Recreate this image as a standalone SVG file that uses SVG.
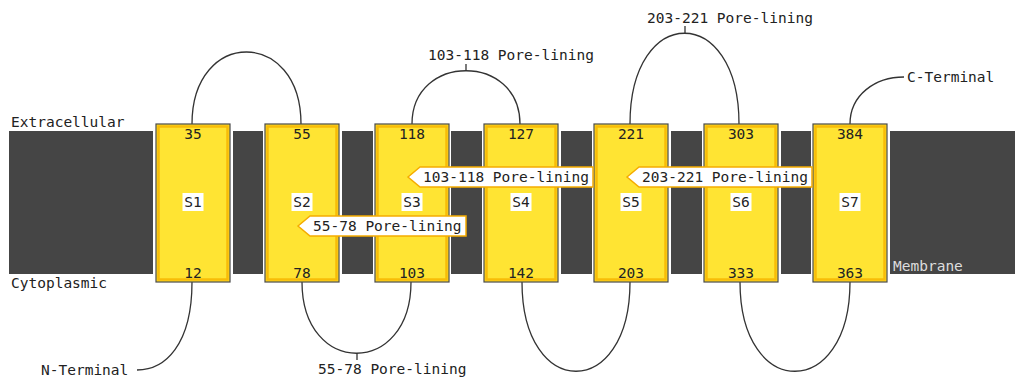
<svg xmlns="http://www.w3.org/2000/svg" width="1022" height="381" viewBox="0 0 1022 381">
<style>
text{font-family:"DejaVu Sans Mono","Liberation Mono",monospace;font-size:14.5px;fill:#222}
.mem{fill:#454545}
.hx{fill:#ffe433;stroke:#4a4a4a;stroke-width:1.2}
.hxi{fill:none;stroke:#f7b500;stroke-width:2.5;stroke-opacity:0.85}
.num{text-anchor:middle}
.lab{fill:#fff}
.call{fill:#fff;stroke:#f5ac00;stroke-width:1.5}
.loop{fill:none;stroke:#333;stroke-width:1.3}
</style>
<g id="membrane">
<rect class="mem" x="9" y="131" width="144" height="143"/>
<rect class="mem" x="233" y="131" width="30" height="143"/>
<rect class="mem" x="342" y="131" width="31" height="143"/>
<rect class="mem" x="451" y="131" width="31" height="143"/>
<rect class="mem" x="561" y="131" width="31" height="143"/>
<rect class="mem" x="671" y="131" width="31" height="143"/>
<rect class="mem" x="781" y="131" width="30" height="143"/>
<rect class="mem" x="890" y="131" width="125" height="143"/>
<text x="11" y="127">Extracellular</text>
<text x="11" y="288">Cytoplasmic</text>
<text x="893" y="271" style="fill:#ddd">Membrane</text>
</g>
<g id="connectors">
<path class="loop" d="M192 124 C192 28 301 28 301 124"/>
<path class="loop" d="M412 124 C412 53 520 53 520 124"/>
<line class="loop" x1="466" y1="71" x2="466" y2="64"/>
<path class="loop" d="M630 124 C630 3 739 3 739 124"/>
<line class="loop" x1="685" y1="33" x2="685" y2="26"/>
<path class="loop" d="M302 282 C302 377 411 377 411 282"/>
<line class="loop" x1="357" y1="353" x2="357" y2="360"/>
<path class="loop" d="M522 282 C522 401 630 401 630 282"/>
<path class="loop" d="M740 282 C740 401 850 401 850 282"/>
<path class="loop" d="M192 282 C192 345 165 370 137 370"/>
<path class="loop" d="M850 124 C850 95 875 77 904 77"/>
</g>
<g id="S1"><rect class="hx" x="156" y="124" width="74" height="158"/><rect class="hxi" x="158.5" y="126.5" width="69" height="153"/><text class="num" x="193" y="139">35</text><text class="num" x="193" y="278">12</text><rect class="lab" x="182.5" y="193" width="21" height="18"/><text class="num" x="193" y="207">S1</text></g>
<g id="S2"><rect class="hx" x="265" y="124" width="74" height="158"/><rect class="hxi" x="267.5" y="126.5" width="69" height="153"/><text class="num" x="302" y="139">55</text><text class="num" x="302" y="278">78</text><rect class="lab" x="291.5" y="193" width="21" height="18"/><text class="num" x="302" y="207">S2</text></g>
<g id="S3"><rect class="hx" x="375" y="124" width="74" height="158"/><rect class="hxi" x="377.5" y="126.5" width="69" height="153"/><text class="num" x="412" y="139">118</text><text class="num" x="412" y="278">103</text><rect class="lab" x="401.5" y="193" width="21" height="18"/><text class="num" x="412" y="207">S3</text></g>
<g id="S4"><rect class="hx" x="484" y="124" width="74" height="158"/><rect class="hxi" x="486.5" y="126.5" width="69" height="153"/><text class="num" x="521" y="139">127</text><text class="num" x="521" y="278">142</text><rect class="lab" x="510.5" y="193" width="21" height="18"/><text class="num" x="521" y="207">S4</text></g>
<g id="S5"><rect class="hx" x="594" y="124" width="74" height="158"/><rect class="hxi" x="596.5" y="126.5" width="69" height="153"/><text class="num" x="631" y="139">221</text><text class="num" x="631" y="278">203</text><rect class="lab" x="620.5" y="193" width="21" height="18"/><text class="num" x="631" y="207">S5</text></g>
<g id="S6"><rect class="hx" x="704" y="124" width="74" height="158"/><rect class="hxi" x="706.5" y="126.5" width="69" height="153"/><text class="num" x="741" y="139">303</text><text class="num" x="741" y="278">333</text><rect class="lab" x="730.5" y="193" width="21" height="18"/><text class="num" x="741" y="207">S6</text></g>
<g id="S7"><rect class="hx" x="813" y="124" width="74" height="158"/><rect class="hxi" x="815.5" y="126.5" width="69" height="153"/><text class="num" x="850" y="139">384</text><text class="num" x="850" y="278">363</text><rect class="lab" x="839.5" y="193" width="21" height="18"/><text class="num" x="850" y="207">S7</text></g>
<g id="callout-55-78"><polygon class="call" points="298,226 310,216 466,216 466,236 310,236"/><text x="313" y="231">55-78 Pore-lining</text></g>
<g id="callout-103-118"><polygon class="call" points="408,177 420,167 593,167 593,187 420,187"/><text x="423" y="182">103-118 Pore-lining</text></g>
<g id="callout-203-221"><polygon class="call" points="627,177 639,167 812,167 812,187 639,187"/><text x="642" y="182">203-221 Pore-lining</text></g>
<g id="labels">
<text x="428" y="60">103-118 Pore-lining</text>
<text x="647" y="23">203-221 Pore-lining</text>
<text x="318" y="374">55-78 Pore-lining</text>
<text x="907" y="82">C-Terminal</text>
<text x="41" y="375">N-Terminal</text>
</g>
</svg>
